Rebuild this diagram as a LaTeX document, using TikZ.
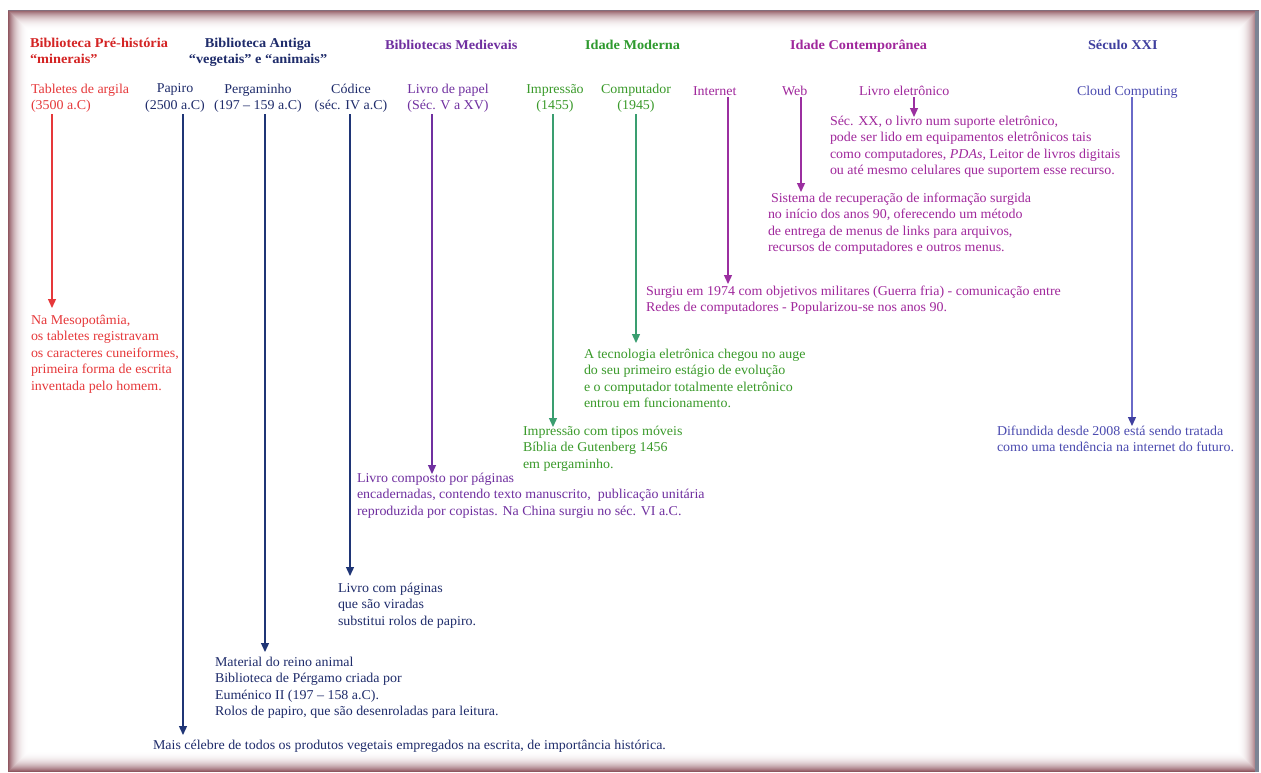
\documentclass[tikz,border=0pt]{standalone}
\usepackage{fontspec}
\setmainfont[FakeStretch=1.035, BoldFeatures={FakeStretch=1.06}]{Liberation Serif}
\usetikzlibrary{arrows.meta}
\definecolor{frameC}{HTML}{8A4E58}
\definecolor{edgeC}{HTML}{7C8494}
\definecolor{redH}{HTML}{D42424}
\definecolor{redT}{HTML}{E6383A}
\definecolor{navyT}{HTML}{1F2C6B}
\definecolor{navyA}{HTML}{1F3576}
\definecolor{purpleM}{HTML}{7030A0}
\definecolor{greenH}{HTML}{2E9A2E}
\definecolor{greenT}{HTML}{3A9A2A}
\definecolor{greenA}{HTML}{3A9E70}
\definecolor{magT}{HTML}{A0289C}
\definecolor{magA}{HTML}{9B2FA0}
\definecolor{blueH}{HTML}{3F3F9F}
\definecolor{blueT}{HTML}{4B4BB0}
\definecolor{blueA}{HTML}{6A6AC8}
\begin{document}
\begin{tikzpicture}[x=1pt,y=-1pt,
  txt/.style={inner sep=0pt, outer sep=0pt, font=\fontsize{13.5}{16.4}\selectfont,
              align=left, anchor=north west, execute at begin node=\strut},
  ctxt/.style={txt, align=center, anchor=north},
  hdr/.style={txt, font=\fontsize{13.5}{16.6}\selectfont\bfseries},
  hdrc/.style={hdr, align=center, anchor=north},
  arr/.style={line width=1.3pt, -{Triangle[length=9pt,width=8pt]}}]
% background and frame
\fill[white] (0,0) rectangle (1261,772);
\foreach \i in {0,...,21} {
  \pgfmathsetmacro\m{95*(1-\i/22)^2.6}
  \draw[line width=1.1pt, draw=frameC!\m!white] (8.5+\i,10.5+\i) rectangle (1257.5-\i,771.5-\i);
}
\fill[edgeC] (1255,10) rectangle (1259,772);
\draw[line width=1pt, draw=edgeC!60!frameC] (8,10.5) -- (1259,10.5);
\useasboundingbox (0,0) rectangle (1261,772);

% headers
\node[hdr, text=redH] (h1) at (30,38) {Biblioteca Pré-história\\“minerais”};
\node[hdrc, text=navyT] (h2) at (258,38) {Biblioteca Antiga\\“vegetais” e “animais”};
\node[hdr, text=purpleM] (h3) at (385,38) {Bibliotecas Medievais};
\node[hdr, text=greenH] (h4) at (585,38) {Idade Moderna};
\node[hdr, text=magT] (h5) at (790,38) {Idade Contemporânea};
\node[hdr, text=blueH] (h6) at (1088,38) {Século XXI};

% second row
\node[txt, text=redT] (tab) at (31,84) {Tabletes de argila\\(3500 a.C)};
\node[ctxt, text=navyT] (pap) at (175,84) {Papiro\\(2500 a.C)};
\node[ctxt, text=navyT] (per) at (258,84) {Pergaminho\\(197 – 159 a.C)};
\node[ctxt, text=navyT] (cod) at (351,84) {Códice\\(séc. IV a.C)};
\node[ctxt, text=purpleM] (lp) at (448,84) {Livro de papel\\(Séc. V a XV)};
\node[ctxt, text=greenT] (imp) at (555,84) {Impressão\\(1455)};
\node[ctxt, text=greenT] (comp) at (636,84) {Computador\\(1945)};
\node[txt, text=magT] (int) at (693,84) {Internet};
\node[txt, text=magT] (web) at (782,84) {Web};
\node[txt, text=magT] (le) at (859,84) {Livro eletrônico};
\node[txt, text=blueT] (cc) at (1077,84) {Cloud Computing};

% descriptions
\node[txt, text=redT] (dtab) at (31,315) {Na Mesopotâmia,\\os tabletes registravam\\os caracteres cuneiformes,\\primeira forma de escrita\\inventada pelo homem.};
\node[txt, text=navyT] (dcod) at (338,583) {Livro com páginas\\que são viradas\\substitui rolos de papiro.};
\node[txt, text=navyT] (dper) at (215,657) {Material do reino animal\\Biblioteca de Pérgamo criada por\\Euménico II (197 – 158 a.C).\\Rolos de papiro, que são desenroladas para leitura.};
\node[txt, text=navyT] (dpap) at (153,738) {Mais célebre de todos os produtos vegetais empregados na escrita, de importância histórica.};
\node[txt, text=purpleM] (dlp) at (357,473) {Livro composto por páginas\\encadernadas, contendo texto manuscrito,\ \ publicação unitária\\reproduzida por copistas. Na China surgiu no séc. VI a.C.};
\node[txt, text=greenT] (dimp) at (523,426) {Impressão com tipos móveis\\Bíblia de Gutenberg 1456\\em pergaminho.};
\node[txt, text=greenT] (dcomp) at (584,349) {A tecnologia eletrônica chegou no auge\\do seu primeiro estágio de evolução\\e o computador totalmente eletrônico\\entrou em funcionamento.};
\node[txt, text=magT] (dint) at (646,286) {Surgiu em 1974 com objetivos militares (Guerra fria) - comunicação entre\\Redes de computadores - Popularizou-se nos anos 90.};
\node[txt, text=magT] (dweb) at (768,193) {\hspace{3pt}Sistema de recuperação de informação surgida\\no início dos anos 90, oferecendo um método\\de entrega de menus de links para arquivos,\\recursos de computadores e outros menus.};
\node[txt, text=magT] (dle) at (830,116) {Séc. XX, o livro num suporte eletrônico,\\pode ser lido em equipamentos eletrônicos tais\\como computadores, \textit{PDAs}, Leitor de livros digitais\\ou até mesmo celulares que suportem esse recurso.};
\node[txt, text=blueT] (dcc) at (997,426) {Difundida desde 2008 está sendo tratada\\como uma tendência na internet do futuro.};

% arrow end points
\coordinate (s1) at (52,114);   \coordinate (e1) at (52,308);
\coordinate (s2) at (183,114);  \coordinate (e2) at (183,735);
\coordinate (s3) at (265,114);  \coordinate (e3) at (265,652);
\coordinate (s4) at (350,114);  \coordinate (e4) at (350,576);
\coordinate (s5) at (432,114);  \coordinate (e5) at (432,474);
\coordinate (s6) at (553,114);  \coordinate (e6) at (553,427);
\coordinate (s7) at (636,114);  \coordinate (e7) at (636,343);
\coordinate (s8) at (728,97);   \coordinate (e8) at (728,284);
\coordinate (s9) at (801,97);   \coordinate (e9) at (801,192);
\coordinate (s10) at (914,97);  \coordinate (e10) at (914,117);
\coordinate (s11) at (1132,97); \coordinate (e11) at (1132,426);

\draw[arr, draw=redT] (s1) -- (e1);
\draw[arr, draw=navyA] (s2) -- (e2);
\draw[arr, draw=navyA] (s3) -- (e3);
\draw[arr, draw=navyA] (s4) -- (e4);
\draw[arr, draw=purpleM] (s5) -- (e5);
\draw[arr, draw=greenA] (s6) -- (e6);
\draw[arr, draw=greenA] (s7) -- (e7);
\draw[arr, draw=magA] (s8) -- (e8);
\draw[arr, draw=magA] (s9) -- (e9);
\draw[arr, draw=magA] (s10) -- (e10);
\draw[line width=1.3pt, draw=blueA, -{Triangle[length=9pt,width=8pt,color=blueH]}] (s11) -- (e11);
\end{tikzpicture}
\end{document}
